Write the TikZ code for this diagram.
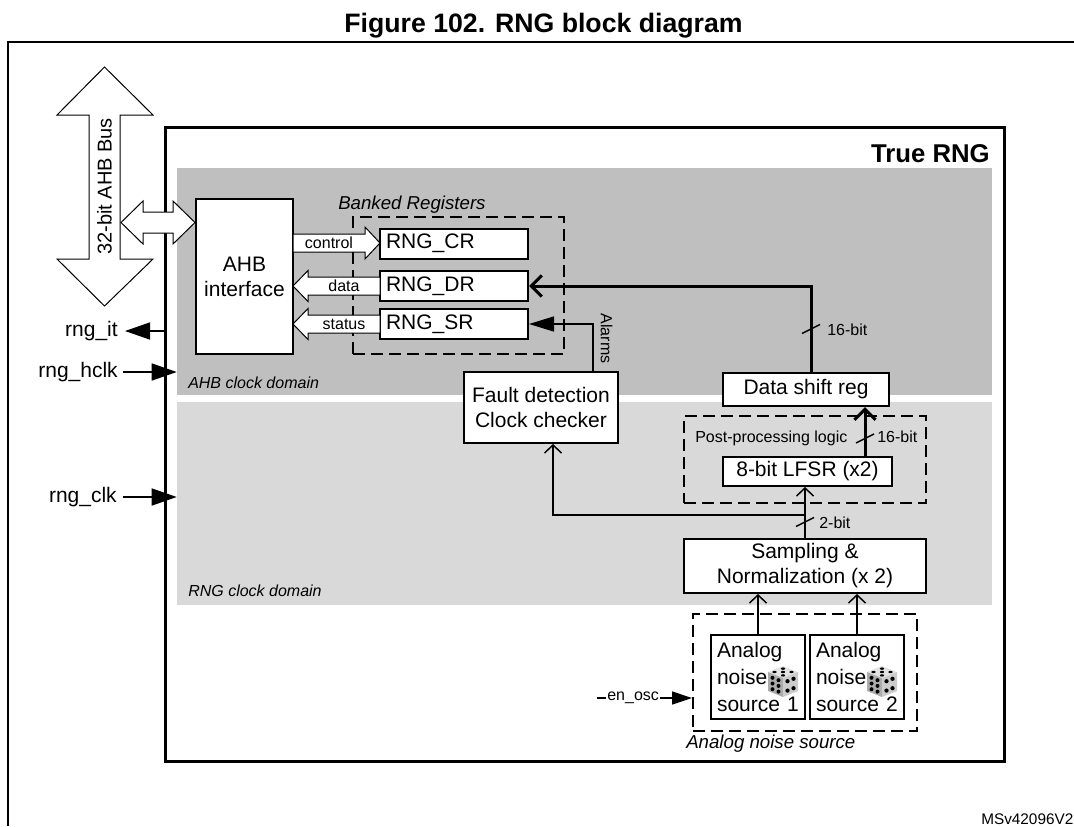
\documentclass[tikz,border=0pt]{standalone}
\usepackage{fontspec}
\setmainfont{Liberation Sans}
\usetikzlibrary{arrows.meta,calc}
\definecolor{ahbgray}{RGB}{191,191,191}
\definecolor{rnggray}{RGB}{217,217,217}
\newcommand{\drawdie}[2]{%
  \begin{scope}[shift={(#1,#2)}]
    \fill[gray!22] (0,0) -- (15,6) -- (0,12) -- (-15,6) -- cycle;
    \fill[gray!65] (-15,6) -- (0,12) -- (0,31) -- (-15,25) -- cycle;
    \fill[gray!40] (0,12) -- (15,6) -- (15,25) -- (0,31) -- cycle;
    \foreach \p in {(0,2.6),(8.5,6),(0,9.4),(-8.5,6),(0,6)}
      \fill[black] \p ellipse[x radius=1.6pt, y radius=0.9pt];
    \foreach \p in {(-10.5,11.8),(-10.5,17.5),(-10.5,23.2),(-4.5,14.2),(-4.5,19.9),(-4.5,25.6)}
      \fill[black] \p circle[radius=1.5pt];
    \foreach \p in {(4.5,15.2),(4.5,24.6),(10.5,12.8),(10.5,22.2)}
      \fill[black] \p circle[radius=1.6pt];
  \end{scope}}
\tikzset{
  mainf/.style={font=\fontsize{15.75}{18.75}\selectfont},
  srcf/.style={font=\fontsize{15.75}{20.25}\selectfont},
  smallf/.style={font=\fontsize{12}{14}\selectfont},
  italf/.style={font=\itshape\fontsize{12}{14}\selectfont},
  bigitalf/.style={font=\itshape\fontsize{14}{16}\selectfont},
  box/.style={draw, line width=1.5pt, fill=white, inner sep=0pt, align=center, mainf},
  regbox/.style={box, align=left, text width=102pt, inner xsep=4.5pt, minimum height=22.5pt},
  srcbox/.style={box, srcf, align=left, text width=61.5pt, inner xsep=4.5pt, minimum height=63pt},
  dashbox/.style={draw, line width=1.5pt, dash pattern=on 9pt off 4.5pt, inner sep=0pt},
  conn/.style={line width=1.1pt},
  thickc/.style={line width=2.25pt},
  openarr/.style={-{Straight Barb[length=6pt,width=12.75pt]}},
  thickarr/.style={-{Straight Barb[length=8pt,width=15.75pt]}},
  filltip/.style={-{Triangle[length=18.75pt,width=12.75pt]}},
  alarmtip/.style={-{Triangle[length=18.75pt,width=11.25pt]}},
  entip/.style={-{Triangle[length=15pt,width=9.75pt]}},
  blk/.style={draw, line width=0.75pt, fill=white, line join=miter},
  lbl/.style={inner sep=0pt},
}
\begin{document}
\begin{tikzpicture}[x=0.75pt,y=-0.75pt]
\useasboundingbox (0,0) rectangle (1074,826);
% outer frame
\draw[line width=1.3pt] (8,826) -- (8,42) -- (1074,42);
\node[lbl, anchor=base, font=\bfseries\fontsize{20}{24}\selectfont] (title) at (543.5,32) {Figure 102. RNG block diagram};

% 32-bit AHB bus
\draw[blk] (104.5,67) -- (153,115) -- (120,115) -- (120,259) -- (153,259) -- (104.5,306)
  -- (57,259) -- (89,259) -- (89,115) -- (57,115) -- cycle;
\node[lbl, rotate=90, font=\fontsize{15}{17}\selectfont] (busl) at (104.5,186.5) {32-bit AHB Bus};

% True RNG frame and domains
\node[draw, line width=2.25pt, fill=white, minimum width=629.25pt, minimum height=475.5pt, inner sep=0pt] (trng) at (584.5,444) {};
\node[fill=ahbgray, minimum width=611.25pt, minimum height=170.25pt, inner sep=0pt] (ahbdom) at (584.5,281.5) {};
\node[fill=rnggray, minimum width=611.25pt, minimum height=152.25pt, inner sep=0pt] (rngdom) at (584.5,503.5) {};
\node[lbl, anchor=base east, font=\bfseries\fontsize{19.3}{23}\selectfont] (trngl) at (990,162) {True RNG};
\node[lbl, anchor=base west, italf] (ahbl) at (188,388) {AHB clock domain};
\node[lbl, anchor=base west, italf] (rngl) at (188,596) {RNG clock domain};

% dashed groups
\node[dashbox, minimum width=158.25pt, minimum height=102.75pt] (banked) at (458.5,285.5) {};
\node[dashbox, minimum width=181.5pt, minimum height=65.25pt] (post) at (805,459.5) {};
\node[dashbox, minimum width=168pt, minimum height=87.75pt] (analog) at (805,672.5) {};
\node[lbl, anchor=base west, bigitalf] (bankl) at (338,209) {Banked Registers};
\node[lbl, anchor=base west, smallf] (postl) at (695,442) {Post-processing logic};
\node[lbl, anchor=base west, bigitalf] (anal) at (686,748) {Analog noise source};

% boxes
\node[box, minimum width=72.75pt, minimum height=116.25pt] (ahb) at (244.5,276.5) {AHB\\interface};
\node[regbox] (cr) at (454,243.5) {RNG\_CR};
\node[regbox] (dr) at (454,286) {RNG\_DR};
\node[regbox] (sr) at (454,324) {RNG\_SR};
\node[box, minimum width=115.5pt, minimum height=53.25pt] (fault) at (541,407.5) {Fault detection\\Clock checker};
\node[box, minimum width=124.5pt, minimum height=24.75pt] (dsr) at (806,389.5) {Data shift reg};
\node[box, minimum width=126.75pt, minimum height=21.75pt] (lfsr) at (807.5,471.5) {8-bit LFSR (x2)};
\node[box, minimum width=181.5pt, minimum height=40.5pt] (samp) at (805,566) {Sampling \&\\Normalization (x 2)};
\node[srcbox] (s1) at (758,677) {Analog\\noise\\source 1};
\node[srcbox] (s2) at (857,677) {Analog\\noise\\source 2};
\drawdie{783}{666}
\drawdie{882}{666}

% data path 16-bit to RNG_DR
\coordinate (pd) at ([xshift=3.75pt]dsr.north);
\draw[thickc, thickarr] (pd) |- (dr.east);
\coordinate (sl1) at ($(pd)+(0,-43)$);
\draw[conn] ($(sl1)+(-9,4.5)$) -- ($(sl1)+(9,-4.5)$);
\node[lbl, anchor=base west, smallf] (b16a) at (827,335) {16-bit};

% LFSR -> data shift reg
\coordinate (p16) at ([xshift=44.25pt]dsr.south);
\draw[thickc, thickarr] (p16 |- lfsr.north) -- (p16);
\coordinate (sl2) at ($(p16)+(0,31.5)$);
\draw[conn] ($(sl2)+(-9,4.5)$) -- ($(sl2)+(9,-4.5)$);
\node[lbl, anchor=base west, smallf] (b16b) at (877,442) {16-bit};

% sampling -> LFSR, branch to fault detection
\draw[conn, openarr] (samp.north) -- (samp.north |- lfsr.south);
\coordinate (br) at ($(samp.north)+(0,-23)$);
\coordinate (fin) at ([xshift=9pt]fault.south);
\draw[conn, openarr] (br) -| (fin);
\coordinate (sl3) at ($(samp.north)+(0,-16)$);
\draw[conn] ($(sl3)+(-9,4.5)$) -- ($(sl3)+(9,-4.5)$);
\node[lbl, anchor=base west, smallf] (b2) at (819,528) {2-bit};

% alarms
\coordinate (al) at ([xshift=39pt]fault.north);
\draw[conn, alarmtip] (al) |- (sr.east);
\node[lbl, rotate=-90, smallf] (alarms) at (606.5,338.5) {Alarms};

% noise sources -> sampling
\draw[conn, openarr] (s1.north) -- (s1.north |- samp.south);
\draw[conn, openarr] (s2.north) -- (s2.north |- samp.south);

% en_osc
\coordinate (en) at (597,698);
\draw[conn, entip] (en) -- (en -| analog.west) node[pos=0.38, fill=white, inner xsep=1pt, inner ysep=0pt, smallf] {en\_osc};

% external signals
\coordinate (itT) at (125,331);
\draw[conn, filltip] (itT -| trng.west) -- (itT);
\node[lbl, anchor=east, mainf] (itl) at ([xshift=-5.25pt]itT) {rng\_it};
\coordinate (hclkS) at (123,372);
\draw[conn, filltip] (hclkS) -- (hclkS -| ahbdom.west);
\node[lbl, anchor=east, mainf] (hclkl) at ([xshift=-3.75pt]hclkS) {rng\_hclk};
\coordinate (clkS) at (123,497);
\draw[conn, filltip] (clkS) -- (clkS -| rngdom.west);
\node[lbl, anchor=east, mainf] (clkl) at ([xshift=-4.5pt]clkS) {rng\_clk};

% block arrows between AHB interface and registers
\draw[blk] (293,234) -- (365,234) -- (365,227) -- (380,243) -- (365,259) -- (365,252) -- (293,252) -- cycle;
\draw[blk] (380,277) -- (308,277) -- (308,270.5) -- (293,286) -- (308,301.5) -- (308,295) -- (380,295) -- cycle;
\draw[blk] (380,315) -- (308,315) -- (308,308.5) -- (293,324) -- (308,339.5) -- (308,333) -- (380,333) -- cycle;
\node[lbl, anchor=base, smallf] (ctl) at (329,248) {control};
\node[lbl, anchor=base, smallf] (dtl) at (344,291) {data};
\node[lbl, anchor=base, smallf] (stl) at (344,329) {status};

% bus <-> AHB interface
\draw[blk] (121,222.5) -- (143,201) -- (143,212) -- (173,212) -- (173,201) -- (195,222.5)
  -- (173,244) -- (173,233) -- (143,233) -- (143,244) -- cycle;

\node[lbl, anchor=base west, font=\fontsize{11.5}{13}\selectfont] (ms) at (981,824) {MSv42096V2};
\end{tikzpicture}
\end{document}
